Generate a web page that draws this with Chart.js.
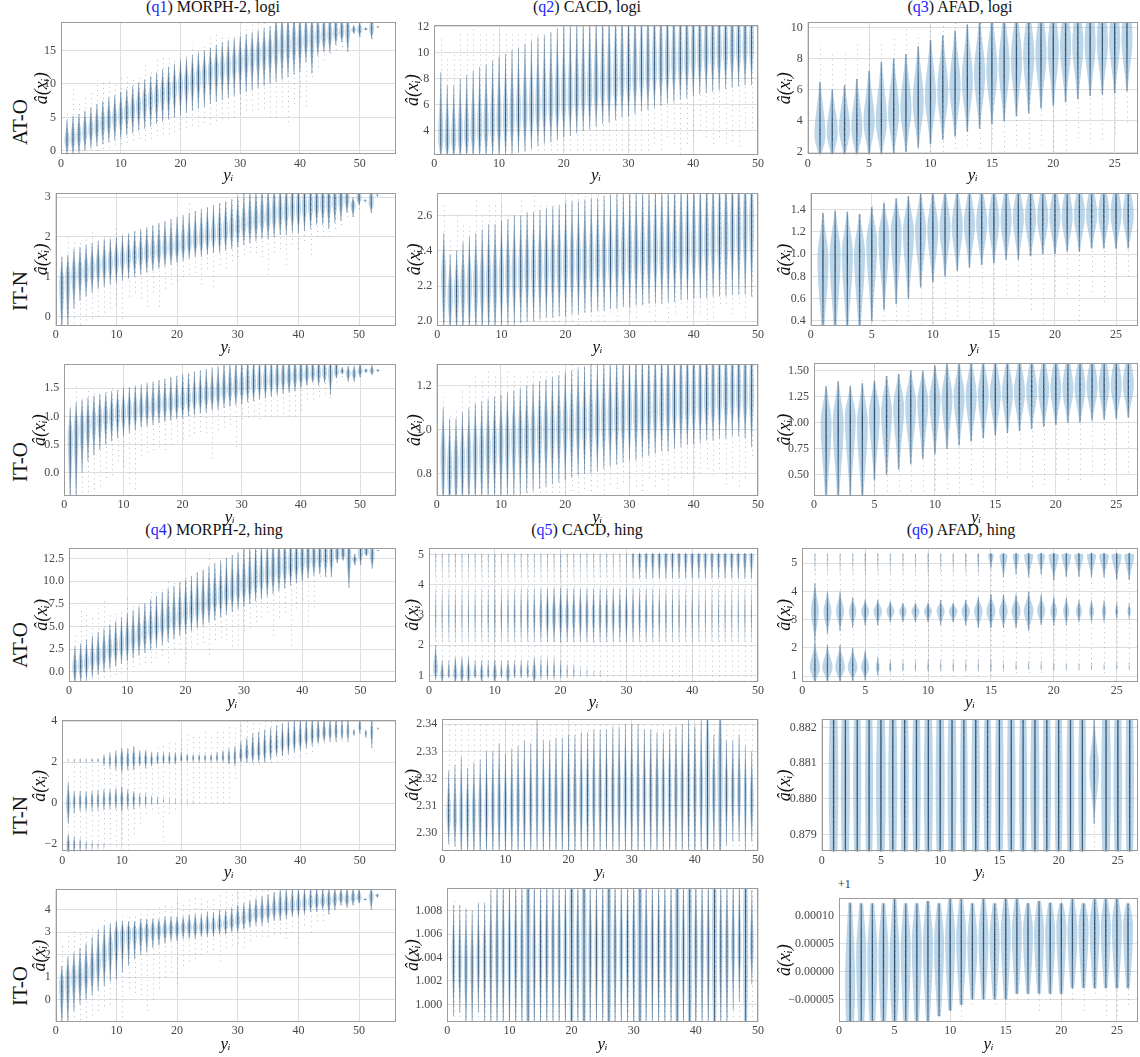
<!DOCTYPE html>
<html>
<head>
<meta charset="utf-8">
<title>violins</title>
<script src="https://cdn.jsdelivr.net/npm/chart.js@4.4.1/dist/chart.umd.min.js"></script>
<style>
  body { margin: 0; background: #fff; }
  #page { position: relative; width: 1140px; height: 1057px; overflow: hidden; font-family: "Liberation Serif", "DejaVu Serif", serif; color: #111; }
  canvas { position: absolute; }
  .title { position: absolute; font-size: 16px; white-space: nowrap; transform: translate(-50%, -50%); }
  .title span { color: #2323ff; }
  .rowlab { position: absolute; font-size: 21px; white-space: nowrap; transform: translate(-50%, -50%) rotate(-90deg); }
  .offset { position: absolute; font-size: 12px; color: #333; }
</style>
</head>
<body>
<div id="page">
  <div class="title" style="left:213px;top:7px">(<span>q1</span>) MORPH-2, logi</div>
  <div class="title" style="left:587px;top:7px">(<span>q2</span>) CACD, logi</div>
  <div class="title" style="left:960px;top:7px">(<span>q3</span>) AFAD, logi</div>
  <div class="title" style="left:214px;top:530px">(<span>q4</span>) MORPH-2, hing</div>
  <div class="title" style="left:587px;top:530px">(<span>q5</span>) CACD, hing</div>
  <div class="title" style="left:961px;top:530px">(<span>q6</span>) AFAD, hing</div>
  <div class="rowlab" style="left:20px;top:122px">AT-O</div>
  <div class="rowlab" style="left:20px;top:291px">IT-N</div>
  <div class="rowlab" style="left:20px;top:462px">IT-O</div>
  <div class="rowlab" style="left:20px;top:645px">AT-O</div>
  <div class="rowlab" style="left:20px;top:816px">IT-N</div>
  <div class="rowlab" style="left:20px;top:986px">IT-O</div>
  <div class="offset" style="left:838px;top:877px">+1</div>
</div>
<script>
// categories (true age index y_i)
const agesMorph = [1,2,3,4,5,6,7,8,9,10,11,12,13,14,15,16,17,18,19,20,21,22,23,24,25,26,27,28,29,30,31,32,33,34,35,36,37,38,39,40,41,42,43,44,45,46,47,48,49,50,51,52,53];
const agesCacd = [1,2,3,4,5,6,7,8,9,10,11,12,13,14,15,16,17,18,19,20,21,22,23,24,25,26,27,28,29,30,31,32,33,34,35,36,37,38,39,40,41,42,43,44,45,46,47,48,49];
const agesAfad = [1,2,3,4,5,6,7,8,9,10,11,12,13,14,15,16,17,18,19,20,21,22,23,24,25,26];

// x tick labels
const xTicksMorph = [0, 10, 20, 30, 40, 50];
const xTicksCacd = [0, 10, 20, 30, 40, 50];
const xTicksAfad = [0, 5, 10, 15, 20, 25];

// y tick labels
const q1aYTicks = [0, 5, 10, 15];
const q2aYTicks = [4, 6, 8, 10, 12];
const q3aYTicks = [2, 4, 6, 8, 10];
const q1bYTicks = [0, 1, 2, 3];
const q2bYTicks = [2.0, 2.2, 2.4, 2.6];
const q3bYTicks = [0.4, 0.6, 0.8, 1.0, 1.2, 1.4];
const q1cYTicks = [0.0, 0.5, 1.0, 1.5];
const q2cYTicks = [0.8, 1.0, 1.2];
const q3cYTicks = [0.50, 0.75, 1.00, 1.25, 1.50];
const q4aYTicks = [0.0, 2.5, 5.0, 7.5, 10.0, 12.5];
const q5aYTicks = [1, 2, 3, 4, 5];
const q6aYTicks = [1, 2, 3, 4, 5];
const q4bYTicks = [-2, 0, 2, 4];
const q5bYTicks = [2.30, 2.31, 2.32, 2.33, 2.34];
const q6bYTicks = [0.879, 0.880, 0.881, 0.882];
const q4cYTicks = [0, 1, 2, 3, 4];
const q5cYTicks = [1.000, 1.002, 1.004, 1.006, 1.008];
const q6cYTicks = [-0.00005, 0.00000, 0.00005, 0.00010];

// q1 MORPH-2 logi, AT-O
const q1aMid = [1.5,1.9,2.3,2.8,3.2,3.6,4.1,4.5,4.9,5.3, 5.8,6.2,6.7,7.1,7.6,8.0,8.5,8.9,9.4,9.8, 10.2,10.6,11.0,11.4,11.8,12.2,12.5,12.8,13.1,13.4, 13.8,14.1,14.4,14.7,15.0,15.3,15.6,15.8,16.1,16.3, 16.5,16.7,16.9,17.1,17.3,17.5,17.6,17.7,18.0,18.1, 18.2,18.1,18.5];
const q1aLo = [-0.6,-0.6,-0.4,0.0,0.4,0.7,1.0,1.3,1.6,2.0, 2.3,2.6,3.0,3.3,3.6,4.0,4.3,4.7,5.0,5.3, 5.7,6.0,6.3,6.6,7.0,7.3,7.6,7.9,8.2,8.5, 8.8,9.1,9.4,9.7,10.0,10.3,10.6,11.0,11.4,11.8, 13.2,11.5,14.2,14.7,14.7,15.8,16.2,14.8,17.5,17.0, 18.0,16.7,18.4];
const q1aHi = [4.6,5.2,5.5,6.0,6.5,7.0,7.5,8.0,8.3,8.8, 9.2,9.7,10.2,10.7,11.2,11.7,12.2,12.6,13.0,13.5, 13.9,14.3,14.7,15.0,15.4,15.8,16.2,16.5,16.8,17.1, 17.4,17.7,18.0,18.3,18.6,21,21,21,21,21, 21,21,21,21,21,21,21,21,18.8,19.4, 18.4,21,18.6];
const q1aDlo = [-0.6,-0.6,-0.6,-0.4,-0.5,0.0,0.3,0.5,0.8,1.0, 1.2,1.5,1.8,1.5,1.8,2.2,2.5,2.5,2.8,3.2, 3.5,3.8,3.6,4.2,4.0,4.5,4.8,4.8,5.0,5.5, 6.0,6.0,6.2,6.3,5.0,5.0,6.5,4.3,7.0,8.0, 6.6,11.0,12.5,13.5,14.5,15.0,15.5,14.8,17.5,17.0, 18.0,16.7,18.4];
const q1aDhi = [5.8,9.5,7.2,8.3,9.0,10.5,10.2,10.5,10.3,11.0, 11.0,11.0,11.5,13.0,12.0,14.0,14.2,14.2,14.0,15.0, 14.5,15.8,15.2,16.0,17.0,17.5,17.5,17.5,17.2,18.0, 18.5,19.0,19.3,19.3,19.3,19.3,19.3,19.3,19.3,19.3, 19.3,19.3,19.3,19.3,19.3,19.3,19.3,19.3,18.8,19.3, 18.4,19.3,18.6];

// q2 CACD logi, AT-O
const q2aMid = [3.4,3.3,3.4,3.6,3.8,4.0,4.1,4.3,4.5,4.7, 4.9,5.0,5.2,5.4,5.5,5.7,5.9,6.0,6.2,6.4, 6.5,6.7,6.9,7.0,7.2,7.4,7.5,7.7,7.9,8.0, 8.2,8.4,8.5,8.7,8.9,9.0,9.2,9.3,9.5,9.6, 9.8,9.9,10.0,10.1,10.2,10.3,10.4,10.5,10.6];
const q2aLo = [1.6,1.6,1.6,1.6,1.6,1.6,1.7,1.7,1.8,1.8, 1.9,2.0,2.3,2.4,2.6,2.8,3.0,3.1,3.3,3.5, 3.6,3.8,4.0,4.1,4.3,4.5,4.6,4.8,5.0,5.1, 5.3,5.5,5.6,5.8,5.9,6.1,6.2,6.4,6.5,6.7, 6.8,6.9,7.0,7.1,7.2,7.3,7.4,7.5,7.5];
const q2aHi = [8.5,7.5,7.5,8.0,8.3,8.6,8.9,9.1,9.4,9.7, 9.9,10.2,10.4,10.7,10.9,11.2,11.4,11.6,11.9,12.2, 12.4,12.6,12.8,13.0,13.2,13.4,13.6,13.8,14.0,14.1, 14.2,14.3,14.4,14.5,14.6,14.7,14.8,14.9,15.0,15.0, 15.0,15.0,15.0,15.0,15.0,15.0,15.0,15.0,15.0];
const q2aDlo = [2.1,2.1,2.1,2.1,2.1,2.1,2.1,2.1,2.1,2.1, 2.1,2.1,2.1,2.1,2.1,2.1,2.1,2.1,2.1,2.1, 2.1,2.1,2.1,2.1,2.1,2.1,2.1,2.1,2.1,2.1, 2.1,2.1,2.1,3.0,2.5,3.5,3.0,2.2,3.0,3.2, 4.0,3.5,3.0,3.5,3.0,3.2,2.8,4.2,4.2];
const q2aDhi = [11.2,9.8,10.2,11.4,11.5,11.8,11.4,11.5,11.5,11.5, 11.6,11.4,11.5,11.5,11.4,11.6,11.3,11.5,11.6,11.9, 12.2,12.2,12.2,12.2,12.2,12.2,12.2,12.2,12.2,12.2, 12.2,12.2,12.2,12.2,12.2,12.2,12.2,12.2,12.2,12.2, 12.2,12.2,12.2,12.2,12.2,12.2,12.2,12.2,12.2];

// q3 AFAD logi, AT-O
const q3aMid = [3.1,3.3,3.5,3.5,3.9,4.0,4.5,4.8,5.2,5.6, 5.9,6.2,6.6,7.0,7.3,7.6,7.9,8.2,8.4,8.6, 8.8,8.9,9.0,9.1,9.2,9.3];
const q3aLo = [1.5,1.5,1.6,1.6,1.7,1.7,1.9,2.0,2.3,2.5, 2.8,3.0,3.3,3.5,3.8,4.0,4.3,4.5,4.8,5.0, 5.2,5.4,5.6,5.7,5.8,5.9];
const q3aHi = [6.5,6.0,6.3,6.7,7.2,7.8,8.0,8.3,8.8,9.2, 9.5,9.8,10.2,10.6,11.0,11.2,11.5,11.8,12.0,12.2, 12.4,12.5,12.6,12.7,12.8,12.9];
const q3aDlo = [1.8,1.8,1.8,1.8,1.8,1.8,1.8,1.8,1.9,2.0, 2.0,2.2,2.4,2.2,2.5,2.0,2.4,2.2,2.4,2.0, 2.1,2.9,2.5,2.8,3.2,3.9];
const q3aDhi = [8.9,8.5,8.4,9.0,9.2,9.2,9.5,10.0,9.6,10.3, 10.4,10.4,10.4,10.4,10.4,10.4,10.4,10.4,10.4,10.4, 10.4,10.4,10.4,10.4,10.4,10.4];

// q1 MORPH-2 logi, IT-N
const q1bMid = [0.8,1.0,1.05,1.1,1.15,1.2,1.25,1.3,1.35,1.4, 1.45,1.5,1.52,1.55,1.6,1.62,1.65,1.7,1.72,1.75, 1.8,1.85,1.9,1.95,2.0,2.05,2.1,2.15,2.2,2.25, 2.3,2.35,2.4,2.45,2.5,2.55,2.6,2.65,2.7,2.72, 2.75,2.78,2.8,2.82,2.85,2.87,2.9,2.92,2.8,2.95, 2.9,2.85,3.05];
const q1bLo = [-0.5,-0.4,0.2,0.4,0.5,0.6,0.7,0.75,0.8,0.85, 0.9,0.95,1.0,1.05,1.1,1.15,1.2,1.25,1.3,1.35, 1.4,1.45,1.5,1.5,1.55,1.6,1.6,1.65,1.7,1.75, 1.8,1.85,1.9,1.95,1.95,2.0,2.05,2.05,2.1,2.1, 2.15,2.2,2.3,2.3,2.2,2.35,2.4,2.6,2.5,2.8, 2.9,2.6,3.03];
const q1bHi = [1.5,1.55,1.7,1.75,1.8,1.85,1.9,1.95,1.95,2.0, 2.05,2.1,2.15,2.2,2.25,2.3,2.35,2.4,2.45,2.5, 2.55,2.6,2.65,2.7,2.75,2.8,2.85,2.9,2.95,3.0, 3.1,3.2,3.2,3.3,3.3,3.4,3.4,3.4,3.5,3.5, 3.5,3.5,3.5,3.5,3.5,3.5,3.5,3.5,3.0,3.5, 2.95,3.5,3.07];
const q1bDlo = [-0.3,-0.3,-0.3,-0.2,-0.1,-0.05,0.0,0.1,0.2,0.3, -0.05,0.5,0.6,0.45,0.25,0.6,0.25,0.7,0.8,0.9, 1.0,1.05,1.1,0.8,1.2,0.75,1.3,1.2,1.4,1.5, 1.55,1.6,1.6,1.5,1.05,1.6,1.7,1.3,1.8,1.7, 1.9,1.55,2.0,2.0,2.0,2.2,2.3,2.5,2.5,2.7, 2.85,2.6,3.0];
const q1bDhi = [1.5,2.0,1.9,1.9,2.0,2.2,2.0,2.05,2.05,2.25, 2.1,2.1,2.15,2.2,2.25,2.25,2.3,2.4,2.45,2.4, 2.5,2.85,2.7,2.7,2.8,2.85,2.9,2.95,3.0,3.15, 3.15,3.15,3.15,3.15,3.15,3.15,3.15,3.15,3.15,3.15, 3.15,3.15,3.15,3.15,3.15,3.15,3.15,3.15,3.0,3.15, 2.95,3.15,3.07];

// q2 CACD logi, IT-N
const q2bMid = [2.25,2.15,2.17,2.2,2.21,2.22,2.23,2.24,2.25,2.26, 2.27,2.27,2.28,2.29,2.29,2.3,2.3,2.31,2.31,2.32, 2.32,2.33,2.33,2.34,2.34,2.35,2.35,2.36,2.36,2.37, 2.37,2.38,2.38,2.39,2.39,2.4,2.4,2.41,2.42,2.42, 2.43,2.44,2.45,2.46,2.47,2.49,2.5,2.52,2.55];
const q2bLo = [1.9,1.9,1.9,1.9,1.9,1.9,1.9,1.9,1.9,1.95, 1.97,1.98,1.99,2.0,2.0,2.01,2.02,2.02,2.03,2.03, 2.04,2.04,2.05,2.05,2.06,2.06,2.07,2.07,2.08,2.08, 2.09,2.09,2.1,2.1,2.1,2.11,2.11,2.12,2.12,2.13, 2.13,2.13,2.14,2.14,2.14,2.15,2.15,2.15,2.14];
const q2bHi = [2.5,2.38,2.4,2.45,2.48,2.5,2.52,2.55,2.55,2.57, 2.58,2.6,2.6,2.62,2.62,2.63,2.64,2.65,2.66,2.67, 2.68,2.68,2.69,2.7,2.7,2.71,2.72,2.73,2.74,2.75, 2.76,2.77,2.78,2.79,2.8,2.8,2.81,2.82,2.83,2.84, 2.85,2.86,2.87,2.88,2.9,2.9,2.91,2.92,2.93];
const q2bDlo = [1.97,1.97,1.97,1.97,1.97,1.97,1.97,1.97,1.97,1.97, 1.97,1.97,1.97,1.97,1.97,1.97,1.97,1.97,1.97,1.97, 2.0,1.98,2.05,2.0,2.0,2.0,2.05,2.0,2.1,2.05, 2.02,2.1,2.05,2.0,2.1,1.99,2.05,2.1,2.02,2.05, 2.05,1.98,2.02,2.1,2.1,2.04,2.1,2.02,2.14];
const q2bDhi = [2.66,2.47,2.6,2.56,2.54,2.7,2.6,2.66,2.68,2.66, 2.6,2.62,2.7,2.6,2.72,2.68,2.68,2.68,2.63,2.7, 2.73,2.73,2.73,2.73,2.73,2.73,2.73,2.73,2.73,2.73, 2.73,2.73,2.73,2.73,2.73,2.73,2.73,2.73,2.73,2.73, 2.73,2.73,2.73,2.73,2.73,2.73,2.73,2.73,2.73];

// q3 AFAD logi, IT-N
const q3bMid = [0.95,1.0,1.0,1.0,1.1,1.15,1.2,1.2,1.22,1.22, 1.25,1.25,1.27,1.28,1.3,1.3,1.32,1.32,1.33,1.33, 1.33,1.35,1.35,1.36,1.36,1.35];
const q3bLo = [0.2,0.2,0.25,0.25,0.4,0.5,0.55,0.6,0.7,0.75, 0.8,0.85,0.88,0.9,0.92,0.95,0.95,0.98,1.0,1.0, 1.02,1.02,1.05,1.05,1.05,1.05];
const q3bHi = [1.37,1.39,1.38,1.36,1.42,1.46,1.5,1.52,1.55,1.58, 1.6,1.62,1.63,1.64,1.65,1.66,1.66,1.67,1.68,1.68, 1.69,1.69,1.7,1.7,1.7,1.7];
const q3bDlo = [0.35,0.35,0.35,0.35,0.35,0.35,0.35,0.35,0.37,0.38, 0.42,0.44,0.43,0.38,0.37,0.63,0.62,0.5,0.37,0.62, 0.64,0.4,0.66,0.57,0.78,0.8];
const q3bDhi = [1.35,1.38,1.37,1.35,1.45,1.48,1.45,1.48,1.52,1.52, 1.55,1.55,1.55,1.55,1.55,1.55,1.55,1.55,1.55,1.55, 1.55,1.55,1.55,1.55,1.55,1.55];

// q1 MORPH-2 logi, IT-O
const q1cMid = [0.6,0.75,0.8,0.85,0.9,0.95,1.0,1.0,1.05,1.05, 1.1,1.1,1.12,1.15,1.15,1.2,1.2,1.22,1.25,1.27, 1.3,1.32,1.35,1.37,1.4,1.42,1.45,1.47,1.5,1.52, 1.55,1.57,1.6,1.62,1.63,1.65,1.67,1.68,1.7,1.72, 1.73,1.74,1.75,1.76,1.77,1.78,1.8,1.77,1.76,1.8, 1.82,1.8,1.82];
const q1cLo = [-0.6,-0.5,0.0,0.2,0.3,0.4,0.5,0.55,0.6,0.65, 0.7,0.75,0.8,0.82,0.85,0.88,0.9,0.92,0.95,0.97, 1.0,1.02,1.05,1.07,1.1,1.12,1.15,1.17,1.2,1.22, 1.25,1.27,1.3,1.32,1.35,1.38,1.4,1.42,1.45,1.5, 1.55,1.6,1.55,1.6,1.38,1.68,1.75,1.62,1.62,1.7, 1.78,1.74,1.8];
const q1cHi = [1.15,1.25,1.3,1.33,1.37,1.4,1.42,1.45,1.47,1.5, 1.52,1.55,1.57,1.6,1.62,1.65,1.67,1.7,1.72,1.75, 1.77,1.8,1.82,1.85,1.87,1.9,2.0,2.0,2.05,2.05, 2.1,2.1,2.1,2.1,2.1,2.1,2.1,2.1,2.1,2.1, 2.1,2.1,2.1,2.1,2.1,2.1,1.88,1.9,1.9,1.95, 1.85,1.92,1.84];
const q1cDlo = [-0.45,-0.45,-0.45,-0.35,-0.3,-0.25,-0.1,-0.05,0.2,0.1, -0.2,-0.3,0.3,0.35,0.4,0.45,0.4,0.5,0.55,0.6, 0.65,0.7,0.72,0.7,0.25,0.75,0.8,0.85,0.45,0.95, 0.98,1.0,0.95,1.0,1.0,1.0,1.05,1.0,1.0,1.1, 1.3,1.3,1.35,1.4,1.33,1.6,1.7,1.62,1.62,1.7, 1.78,1.74,1.8];
const q1cDhi = [1.2,1.55,1.3,1.45,1.45,1.45,1.45,1.5,1.5,1.6, 1.55,1.55,1.55,1.6,1.65,1.7,1.7,1.73,1.75,1.75, 1.78,1.8,1.82,1.85,1.88,1.88,1.93,1.93,1.93,1.93, 1.93,1.93,1.93,1.93,1.93,1.93,1.93,1.93,1.93,1.93, 1.93,1.93,1.93,1.93,1.93,1.93,1.88,1.9,1.9,1.93, 1.85,1.92,1.84];

// q2 CACD logi, IT-O
const q2cMid = [0.88,0.82,0.85,0.87,0.88,0.9,0.9,0.92,0.93,0.94, 0.95,0.96,0.97,0.97,0.98,0.99,1.0,1.0,1.01,1.02, 1.02,1.03,1.03,1.04,1.04,1.05,1.05,1.06,1.06,1.07, 1.07,1.08,1.08,1.09,1.09,1.1,1.1,1.11,1.11,1.12, 1.12,1.13,1.13,1.14,1.14,1.15,1.15,1.15,1.15];
const q2cLo = [0.6,0.6,0.6,0.62,0.63,0.64,0.65,0.66,0.67,0.68, 0.68,0.69,0.7,0.71,0.72,0.73,0.74,0.75,0.76,0.77, 0.78,0.79,0.8,0.8,0.81,0.82,0.83,0.84,0.85,0.86, 0.86,0.87,0.88,0.89,0.9,0.9,0.91,0.92,0.93,0.93, 0.94,0.95,0.95,0.96,0.96,0.97,0.97,0.96,0.92];
const q2cHi = [1.1,1.05,1.05,1.08,1.1,1.12,1.13,1.14,1.15,1.16, 1.17,1.18,1.19,1.2,1.21,1.22,1.23,1.24,1.25,1.26, 1.27,1.28,1.29,1.3,1.31,1.32,1.33,1.34,1.35,1.36, 1.37,1.38,1.39,1.4,1.41,1.42,1.43,1.44,1.45,1.45, 1.46,1.46,1.47,1.47,1.48,1.48,1.49,1.49,1.5];
const q2cDlo = [0.69,0.69,0.69,0.69,0.69,0.69,0.69,0.69,0.69,0.69, 0.69,0.69,0.69,0.69,0.69,0.69,0.69,0.69,0.69,0.69, 0.72,0.71,0.73,0.72,0.74,0.7,0.75,0.73,0.76,0.78, 0.74,0.72,0.78,0.74,0.77,0.7,0.78,0.78,0.8,0.78, 0.8,0.82,0.79,0.82,0.75,0.78,0.74,0.78,0.88];
const q2cDhi = [1.15,1.08,1.1,1.18,1.2,1.26,1.22,1.27,1.25,1.24, 1.27,1.26,1.24,1.26,1.28,1.28,1.28,1.27,1.28,1.27, 1.3,1.3,1.3,1.3,1.3,1.3,1.3,1.3,1.3,1.3, 1.3,1.3,1.3,1.3,1.3,1.3,1.3,1.3,1.3,1.3, 1.3,1.3,1.3,1.3,1.3,1.3,1.3,1.3,1.3];

// q3 AFAD logi, IT-O
const q3cMid = [1.0,1.0,1.05,1.0,1.1,1.1,1.15,1.18,1.2,1.22, 1.24,1.25,1.26,1.27,1.28,1.29,1.3,1.31,1.32,1.33, 1.33,1.34,1.35,1.36,1.36,1.37];
const q3cLo = [0.2,0.2,0.3,0.2,0.45,0.5,0.55,0.6,0.65,0.7, 0.75,0.78,0.82,0.85,0.88,0.9,0.92,0.94,0.96,0.98, 1.0,1.0,1.02,1.03,1.04,1.05];
const q3cHi = [1.35,1.4,1.35,1.38,1.4,1.45,1.47,1.5,1.5,1.55, 1.58,1.6,1.62,1.63,1.64,1.65,1.66,1.67,1.68,1.69, 1.7,1.7,1.71,1.72,1.72,1.73];
const q3cDlo = [0.29,0.29,0.29,0.29,0.29,0.29,0.29,0.29,0.29,0.35, 0.36,0.32,0.4,0.33,0.45,0.47,0.55,0.38,0.4,0.5, 0.45,0.45,0.48,0.4,0.55,0.52];
const q3cDhi = [1.34,1.4,1.36,1.42,1.56,1.45,1.47,1.52,1.46,1.55, 1.57,1.57,1.57,1.57,1.57,1.57,1.57,1.57,1.57,1.57, 1.57,1.57,1.57,1.57,1.57,1.57];

// q4 MORPH-2 hing, AT-O
const q4aMid = [0.5,0.8,1.0,1.4,1.7,2.0,2.4,2.7,3.0,3.4, 3.7,4.0,4.3,4.6,5.0,5.3,5.6,5.9,6.2,6.5, 6.8,7.1,7.4,7.7,8.0,8.3,8.6,8.9,9.2,9.5, 9.8,10.1,10.4,10.7,11.0,11.3,11.5,11.7,11.9,12.1, 12.3,12.4,12.5,12.6,12.7,12.8,12.9,12.5,12.4,13.0, 13.1,12.8,13.4];
const q4aLo = [-1.5,-1.3,-0.9,-0.6,-0.3,0.0,0.3,0.6,0.9,1.2, 1.5,1.8,2.1,2.4,2.7,3.0,3.3,3.6,3.9,4.2, 4.5,4.8,5.1,5.4,5.7,6.0,6.3,6.6,6.9,7.2, 7.5,7.8,8.0,8.3,8.6,8.9,9.2,9.5,9.8,10.0, 10.3,10.6,10.8,10.5,10.5,12.0,12.3,9.3,11.8,11.8, 12.8,11.4,13.35];
const q4aHi = [2.8,3.2,3.6,4.0,4.4,4.8,5.2,5.6,6.0,6.4, 6.8,7.2,7.6,8.0,8.4,8.8,9.2,9.5,9.9,10.2, 10.6,11.0,11.3,11.7,12.0,12.3,12.6,12.9,13.2,13.6, 14.0,14.3,14.6,14.9,15.2,15.5,15.8,16.0,16.0,16.0, 16.0,16.0,16.0,16.0,16.0,16.0,16.0,16.0,13.0,16.0, 16.0,16.0,13.45];
const q4aDlo = [-1.1,-1.1,-1.0,-0.8,-0.8,-0.6,-0.5,-0.3,-0.2,0.3, 0.5,0.8,1.0,1.0,1.5,1.8,1.0,2.0,2.5,0.9, 2.7,3.0,3.2,1.9,3.5,3.8,3.5,2.8,2.9,4.5, 4.8,5.5,6.0,6.5,4.0,6.0,6.5,2.9,7.0,8.0, 5.0,7.2,10.5,10.5,10.5,12.0,12.3,9.3,11.8,11.8, 12.8,11.4,13.35];
const q4aDhi = [4.0,7.2,6.5,6.2,7.0,8.2,6.5,6.5,6.8,8.3, 7.5,7.5,7.5,9.0,9.0,9.5,10.3,10.0,10.0,10.8, 10.5,11.0,11.5,13.0,11.8,12.0,12.5,13.0,13.3,13.7, 13.7,13.7,13.7,13.7,13.7,13.7,13.7,13.7,13.7,13.7, 13.7,13.7,13.7,13.7,13.7,13.7,13.7,13.7,13.0,13.7, 13.7,13.7,13.45];

// q5 CACD hing, AT-O (three clusters)
const q5aLowMid = [1.2,1.05,1.05,1.05,1.05,1.05,1.05,1.05,1.05,1.05, 1.05,1.05,1.1,1.1,1.1,1.05,1.1,1.1,1.1,1.1, 1.1,1.1,1.05,1.05,1.05,1.05];
const q5aLowLo = [0.85,0.7,0.9,0.7,0.7,0.7,0.9,0.7,0.9,0.7, 0.9,0.7,0.9,0.9,0.9,0.7,0.85,0.85,0.85,0.9, 0.9,0.9,0.95,0.95,0.95,0.95];
const q5aLowHi = [2.0,1.5,1.5,1.6,1.6,1.6,1.5,1.5,1.5,1.5, 1.5,1.5,1.5,1.5,1.5,1.6,1.6,1.6,1.6,1.5, 1.4,1.4,1.3,1.3,1.2,1.2];
const q5aLowW = [0.9,0.7,0.5,0.8,0.8,0.8,0.6,0.7,0.5,0.8, 0.5,0.8,0.5,0.5,0.5,0.8,0.4,0.4,0.4,0.3, 0.2,0.2,0.1,0.1,0.05,0.05];
const q5aMidMode = 3.0, q5aMidLo = 2.1, q5aMidHi = 3.9;
const q5aMidW = [0.2,0.2,0.2,0.2,0.2,0.2,0.2,0.2,0.25,0.25, 0.3,0.3,0.35,0.35,0.4,0.45,0.6,0.7,0.8,0.8, 0.7,0.7,0.7,0.65,0.65,0.6,0.6,0.6,0.6,0.6, 0.55,0.5,0.5,0.45,0.4,0.35,0.3,0.3,0.25,0.25, 0.2,0.2,0.2,0.2,0.2,0.2,0.2,0.2,0.2];
const q5aTopMode = 5.0, q5aTopLo = 4.2, q5aTopHi = 5.06;
const q5aTopW = [0.1,0.1,0.1,0.1,0.1,0.1,0.1,0.1,0.1,0.1, 0.1,0.1,0.1,0.1,0.1,0.1,0.1,0.1,0.1,0.1, 0.1,0.1,0.1,0.1,0.1,0.1,0.1,0.1,0.1,0.1, 0.5,0.8,0.7,0.8,0.8,0.8,0.8,0.75,0.8,0.8, 0.8,0.8,0.75,0.8,0.8,0.8,0.8,0.8,0.85];
const q5aDlo = 0.79, q5aDhi = 5.06;

// q6 AFAD hing, AT-O (three clusters)
const q6aLowMode = 1.3;
const q6aLowLo = [0.7,0.75,0.75,0.8,0.85,1.0,1.1,1.15,1.15,1.15, 1.15,1.15,1.15,1.15,1.15,1.2,1.2,1.2,1.2,1.2, 1.2,1.2,1.2,1.2,1.2,1.2];
const q6aLowHi = [2.2,2.1,2.1,2.0,1.9,1.7,1.6,1.6,1.6,1.6, 1.6,1.6,1.6,1.6,1.6,1.55,1.55,1.55,1.55,1.5, 1.5,1.5,1.5,1.5,1.5,1.5];
const q6aLowW = [0.9,0.9,0.85,0.85,0.7,0.35,0.2,0.12,0.1,0.1, 0.1,0.1,0.08,0.08,0.08,0.08,0.08,0.08,0.08,0.06, 0.06,0.06,0.06,0.05,0.05,0.05];
const q6aMidMode = 3.3;
const q6aMidLo = [2.2,2.5,2.6,2.7,2.8,2.8,2.9,2.9,2.9,2.9, 2.8,2.9,2.8,2.7,2.7,2.7,2.7,2.6,2.8,2.8, 2.8,2.9,2.9,2.9,3.0,3.0];
const q6aMidHi = [4.3,4.0,4.0,3.8,3.7,3.7,3.65,3.6,3.6,3.6, 3.7,3.6,3.7,3.8,3.9,3.9,3.9,4.0,3.9,3.8, 3.8,3.7,3.7,3.7,3.6,3.6];
const q6aMidW = [0.7,0.7,0.7,0.65,0.7,0.75,0.7,0.65,0.7,0.7, 0.7,0.75,0.75,0.75,0.8,0.75,0.8,0.85,0.7,0.6, 0.55,0.55,0.45,0.4,0.3,0.3];
const q6aTopMode = 5.3, q6aTopHi = 5.36;
const q6aTopLo = [4.6,4.6,4.6,4.6,4.6,4.6,4.6,4.6,4.6,4.6, 4.6,4.6,4.6,4.6,4.8,4.5,4.6,4.5,4.6,4.4, 4.5,4.5,4.5,4.5,4.4,4.4];
const q6aTopW = [0.05,0.05,0.05,0.05,0.06,0.06,0.06,0.06,0.06,0.06, 0.08,0.08,0.1,0.15,0.5,0.7,0.6,0.8,0.7,0.9, 0.85,0.8,0.8,0.85,0.9,0.9];
const q6aDlo = [0.85,0.85,0.85,0.85,0.85,0.85,0.85,0.85,1.0,1.0, 1.0,1.0,1.0,1.0,1.0,1.15,1.1,1.1,1.1,1.2, 1.2,1.2,1.25,1.1,1.3,1.25];
const q6aDhi = 5.36;

// q4 MORPH-2 hing, IT-N (clusters near 2, 0 and -2)
const q4bUpMid = [2.1,2.1,2.1,2.1,2.1,2.1,2.1,2.1,2.1,2.15, 2.1,2.15,2.1,2.15,2.1,2.15,2.15,2.15,2.15,2.15, 2.2,2.2,2.2,2.2,2.2,2.2,2.2,2.2,2.25,2.3, 2.4,2.45,2.5,2.6,2.7,2.8,2.9,3.0,3.05,3.1, 3.2,3.3,3.35,3.4,3.45,3.5,3.45,3.5,3.45,3.7, 3.4,3.5,3.65];
const q4bUpLo = [2.0,2.0,2.0,2.0,2.0,2.0,1.8,1.7,1.6,1.5, 1.6,1.6,1.8,1.7,1.8,1.9,1.9,1.9,1.9,2.0, 2.0,2.0,2.0,2.0,2.0,2.0,2.0,1.9,1.8,2.0, 2.0,2.0,2.0,2.0,2.1,2.3,2.3,2.4,2.5,2.6, 2.7,2.8,2.9,3.0,3.0,3.0,3.1,3.0,3.3,3.4, 3.2,2.7,3.6];
const q4bUpHi = [2.2,2.2,2.2,2.2,2.2,2.2,2.4,2.5,2.6,2.7, 2.7,2.8,2.6,2.6,2.5,2.5,2.5,2.5,2.5,2.5, 2.4,2.4,2.4,2.4,2.4,2.5,2.6,2.7,2.8,3.0, 3.2,3.4,3.5,3.6,3.7,3.8,3.9,4.0,4.1,4.2, 4.2,4.2,4.2,4.2,4.2,4.2,4.2,4.2,3.6,4.2, 3.6,4.2,3.7];
const q4bUpW = [0.1,0.15,0.2,0.2,0.25,0.3,0.45,0.5,0.55,0.7, 0.7,0.7,0.6,0.7,0.7,0.6,0.6,0.55,0.55,0.5, 0.5,0.45,0.45,0.45,0.5,0.5,0.55,0.6,0.6,0.7, 0.8,0.8,0.8,0.8,0.8,0.8,0.8,0.8,0.8,0.8, 0.8,0.8,0.8,0.8,0.7,0.7,0.6,0.6,0.5,0.6, 0.5,0.6,0.3];
const q4bZeroMid = [0.0,0.1,0.1,0.1,0.15,0.15,0.15,0.2,0.2,0.2, 0.2,0.2,0.15,0.15,0.1,0.1,0.1,0.1,0.05,0.05, 0.05,0.05];
const q4bZeroLo = [-1.0,-0.5,-0.4,-0.4,-0.4,-0.35,-0.35,-0.3,-0.3,-0.4, -0.3,-0.3,-0.2,-0.2,-0.1,-0.1,0.0,0.0,0.0,0.0, 0.0,0.0];
const q4bZeroHi = [1.0,0.6,0.6,0.6,0.6,0.65,0.7,0.7,0.75,0.8, 0.7,0.6,0.5,0.5,0.4,0.35,0.3,0.3,0.25,0.2, 0.2,0.15];
const q4bZeroW = [0.9,0.6,0.6,0.55,0.55,0.55,0.6,0.6,0.6,0.7, 0.6,0.6,0.4,0.35,0.3,0.25,0.15,0.1,0.1,0.05, 0.05,0.05];
const q4bNegMid = [-2.0,-2.0,-2.0,-2.05,-2.05,-2.1,-2.1];
const q4bNegLo = [-2.8,-2.6,-2.5,-2.4,-2.4,-2.3,-2.3];
const q4bNegHi = [-1.5,-1.6,-1.7,-1.8,-1.85,-1.9,-1.9];
const q4bNegW = [0.7,0.45,0.3,0.2,0.15,0.1,0.05];
const q4bDlo = [-2.4,-2.4,-2.4,-2.2,-2.1,-2.1,-2.0,-2.0,-2.1,-2.0, -2.3,-1.5,-1.0,-0.5,-0.3,-0.5,-1.9,-0.5,-0.3,-0.1, -0.1,0.0,0.0,0.0,0.0,0.0,0.0,0.0,1.2,1.8, 2.0,1.9,1.9,2.0,2.0,2.0,2.1,2.1,2.2,2.3, 2.4,2.5,2.8,2.9,3.0,3.0,3.0,3.0,3.3,3.4, 3.2,2.7,3.6];
const q4bDhi = [1.5,2.1,2.2,2.2,2.2,2.2,2.4,2.2,2.2,2.5, 2.7,2.8,2.6,2.7,2.5,2.7,2.8,3.0,3.1,3.2, 3.4,3.3,3.4,3.5,3.4,3.5,3.6,3.8,3.8,3.9, 4.1,4.1,4.1,4.1,4.1,4.1,4.1,4.1,4.1,4.1, 4.1,4.1,4.1,4.1,4.1,4.1,4.1,4.1,3.6,4.1, 3.6,4.1,3.7];

// q5 CACD hing, IT-N
const q5bMid = [2.307,2.306,2.307,2.308,2.308,2.309,2.309,2.31,2.31,2.31, 2.31,2.311,2.311,2.311,2.312,2.311,2.312,2.312,2.312,2.313, 2.313,2.313,2.313,2.314,2.314,2.314,2.314,2.315,2.315,2.315, 2.315,2.315,2.315,2.315,2.315,2.315,2.316,2.316,2.316,2.316, 2.316,2.318,2.316,2.318,2.316,2.315,2.315,2.315,2.312];
const q5bLo = [2.296,2.295,2.29,2.29,2.29,2.29,2.29,2.29,2.29,2.29, 2.29,2.29,2.29,2.29,2.29,2.29,2.29,2.29,2.29,2.29, 2.29,2.29,2.29,2.29,2.29,2.29,2.29,2.29,2.29,2.29, 2.29,2.29,2.29,2.29,2.29,2.29,2.29,2.29,2.29,2.29, 2.29,2.28,2.294,2.28,2.2955,2.297,2.297,2.29,2.297];
const q5bHi = [2.323,2.325,2.328,2.324,2.326,2.327,2.33,2.33,2.333,2.329, 2.331,2.332,2.334,2.333,2.345,2.334,2.334,2.335,2.335,2.336, 2.336,2.337,2.337,2.338,2.338,2.338,2.339,2.339,2.34,2.34, 2.34,2.338,2.338,2.337,2.337,2.338,2.339,2.34,2.343,2.339, 2.343,2.36,2.336,2.36,2.334,2.334,2.336,2.332,2.33];
const q5bW = [0.85,0.75,0.75,0.75,0.75,0.75,0.75,0.75,0.75,0.75, 0.75,0.75,0.75,0.75,0.6,0.75,0.75,0.75,0.75,0.75, 0.75,0.75,0.75,0.75,0.75,0.75,0.75,0.75,0.75,0.75, 0.75,0.75,0.75,0.75,0.75,0.75,0.75,0.75,0.75,0.75, 0.75,1.0,0.75,1.0,0.75,0.75,0.75,0.6,0.75];
const q5bDlo = 2.2936, q5bDhi = 2.341;

// q6 AFAD hing, IT-N
const q6bMid = [0.8804,0.8804,0.8804,0.8804,0.8804,0.8804,0.8804,0.8804,0.8804,0.8804, 0.8804,0.8804,0.8804,0.8804,0.8804,0.8804,0.8804,0.8804,0.8804,0.8804, 0.8804,0.8804,0.8808,0.8804,0.8804,0.8804];
const q6bLo = [0.874,0.874,0.874,0.874,0.874,0.874,0.874,0.874,0.874,0.874, 0.874,0.874,0.874,0.874,0.874,0.874,0.874,0.874,0.874,0.874, 0.874,0.874,0.8793,0.874,0.874,0.874];
const q6bHi = [0.887,0.887,0.887,0.887,0.887,0.887,0.887,0.887,0.887,0.887, 0.887,0.887,0.887,0.887,0.887,0.887,0.887,0.887,0.887,0.887, 0.887,0.887,0.8823,0.887,0.887,0.887];
const q6bW = [0.9,0.85,0.75,0.75,0.9,0.85,0.8,0.8,0.85,0.85, 0.85,0.7,0.8,0.75,0.8,0.8,0.75,0.85,0.8,0.75, 0.75,0.75,0.9,0.9,0.8,0.8];
const q6bDlo = 0.8785, q6bDhi = 0.8822;

// q4 MORPH-2 hing, IT-O
const q4cMid = [0.7,0.9,1.0,1.0,1.1,1.3,1.6,2.0,2.3,2.8, 2.9,3.0,3.0,3.0,3.05,3.1,3.1,3.1,3.15,3.15, 3.2,3.2,3.2,3.2,3.25,3.25,3.3,3.35,3.4,3.5, 3.6,3.7,3.8,3.85,3.9,4.0,4.05,4.1,4.15,4.2, 4.25,4.3,4.35,4.35,4.4,4.45,4.5,4.45,4.5,4.5, 4.45,4.6,4.65];
const q4cLo = [-1.3,-1.2,-0.5,-0.2,0.0,0.2,0.4,0.6,0.8,0.9, 1.2,1.5,1.8,2.0,2.1,2.3,2.4,2.5,2.6,2.6, 2.7,2.7,2.7,2.8,2.8,2.8,2.9,2.9,3.0,3.0, 3.1,3.2,3.3,3.3,3.4,3.5,3.5,3.6,3.7,3.7, 3.8,3.9,3.9,4.0,3.8,4.0,4.2,4.1,4.2,4.3, 4.42,4.0,4.55];
const q4cHi = [1.5,1.9,2.1,2.3,2.5,2.8,3.1,3.3,3.4,3.5, 3.5,3.5,3.5,3.6,3.6,3.6,3.6,3.7,3.7,3.7, 3.7,3.8,3.8,3.8,3.9,3.9,4.0,4.0,4.1,4.2, 4.3,4.4,4.5,4.6,4.7,4.8,5.0,5.0,5.0,5.0, 5.0,5.0,5.0,5.0,5.0,5.0,5.0,5.0,5.0,5.0, 4.5,5.0,4.7];
const q4cDlo = [-1.0,-1.0,-1.0,-0.9,-0.8,-0.7,-0.5,-0.3,-0.2,0.0, -1.0,0.5,0.3,0.2,-0.5,0.0,0.5,1.0,1.2,0.7, 1.5,1.7,1.8,2.0,2.1,2.2,1.7,2.3,2.4,2.5, 2.3,2.6,2.8,2.8,2.8,2.9,2.9,2.7,3.0,2.5, 3.3,3.0,3.5,3.5,3.8,4.0,4.2,4.1,4.2,4.3, 4.42,4.0,4.55];
const q4cDhi = [2.4,2.9,3.2,3.1,3.2,3.2,3.2,3.7,3.3,3.5, 3.7,3.8,3.8,3.9,4.1,3.9,4.2,4.2,4.3,4.4, 4.3,4.5,4.6,4.6,4.5,4.5,4.7,4.8,4.8,4.8, 4.95,4.95,4.95,4.95,4.95,4.95,4.95,4.95,4.95,4.95, 4.95,4.95,4.95,4.95,4.95,4.95,4.95,4.95,4.95,4.95, 4.5,4.95,4.7];

// q5 CACD hing, IT-O
const q5cMid = [1.004,1.0035,1.0035,1.0035,1.004,1.004,1.0045,1.0045,1.0045,1.0045, 1.0045,1.0045,1.0045,1.0045,1.0045,1.005,1.005,1.005,1.005,1.005, 1.005,1.005,1.005,1.005,1.005,1.005,1.005,1.005,1.005,1.005, 1.005,1.005,1.005,1.005,1.005,1.005,1.005,1.005,1.005,1.005, 1.005,1.005,1.005,1.005,1.005,1.005,1.005,1.005,1.005];
const q5cLo = [0.999,0.9993,0.9975,0.998,0.9993,0.998,0.997,0.997,0.997,0.997, 0.997,0.997,0.99,0.997,0.997,0.997,0.997,0.997,0.997,0.99, 0.997,0.99,0.997,0.997,0.997,0.99,0.997,0.997,0.997,0.997, 0.99,0.997,0.997,0.997,0.997,0.997,0.99,0.997,0.99,0.997, 0.997,0.997,0.99,0.997,0.997,0.9995,1.0002,0.99,1.0017];
const q5cHi = [1.0085,1.0085,1.0082,1.008,1.0087,1.0087,1.0098,1.011,1.011,1.011, 1.011,1.011,1.02,1.011,1.011,1.011,1.011,1.011,1.011,1.02, 1.011,1.02,1.011,1.011,1.011,1.02,1.011,1.011,1.011,1.011, 1.02,1.011,1.011,1.011,1.011,1.011,1.02,1.011,1.02,1.011, 1.011,1.011,1.02,1.011,1.011,1.011,1.011,1.02,1.0098];
const q5cW = [0.75,0.75,0.75,0.75,0.75,0.75,0.75,0.75,0.75,0.75, 0.75,0.75,1.0,0.75,0.75,0.75,0.75,0.75,0.75,1.0, 0.75,1.0,0.75,0.75,0.75,1.0,0.75,0.75,0.75,0.75, 1.0,0.75,0.75,0.75,0.75,0.75,1.0,0.75,1.0,0.75, 0.75,0.75,1.0,0.75,0.75,0.75,0.75,1.0,0.75];
const q5cDlo = 0.9985;
const q5cDhi = [1.0092,1.0085,1.008,1.008,1.0085,1.0086,1.0099,1.0099,1.0099,1.0099, 1.0099,1.0099,1.0099,1.0099,1.0099,1.0099,1.0099,1.0099,1.0099,1.0099, 1.0099,1.0099,1.0099,1.0099,1.0099,1.0099,1.0099,1.0099,1.0099,1.0099, 1.0099,1.0099,1.0099,1.0099,1.0099,1.0099,1.0099,1.0099,1.0099,1.0099, 1.0099,1.0099,1.0099,1.0099,1.0099,1.0099,1.0099,1.0099,1.0099];

// q6 AFAD hing, IT-O (values are a - 1, shown with a +1 offset)
const q6cMid = [-0.00002,0.00003,0.00003,0.00003,0.00002,0.00004,0.00005,0.00005,0.00005,0.00006, 0.00006,0.00005,0.00006,0.00006,0.00007,0.00007,0.00007,0.00007,0.00007,0.00008, 0.00007,0.00008,0.00008,0.00008,0.00008,0.00008];
const q6cLo = [-0.00016,-0.00014,-0.00013,-0.00012,-0.00012,-0.00011,-0.0001,-0.00009,-0.00008,-0.00007, -0.00006,-0.00005,-0.00005,-0.00005,-0.00005,-0.00004,-0.00004,-0.00004,-0.00004,-0.00004, -0.00003,-0.00003,-0.00003,-0.00003,-0.00003,-0.00003];
const q6cHi = [0.000123,0.000122,0.000122,0.000122,0.00013,0.000122,0.000122,0.000126,0.000122,0.00013, 0.00013,0.000122,0.00013,0.000122,0.000131,0.000131,0.000122,0.000126,0.000123,0.000122, 0.00013,0.000122,0.00013,0.00013,0.00013,0.000122];
const q6cDlo = [-0.00009,-0.00009,-0.00009,-0.00009,-0.00009,-0.00009,-0.00009,-0.00009,-0.00008,-0.00007, -0.00009,-0.00006,-0.00005,-0.00006,-0.00006,-0.00005,-0.00005,-0.00007,-0.00005,-0.00006, -0.00005,-0.00007,-0.00004,-0.00008,-0.00008,-0.00006];
const q6cDhi = 0.000123;

// ---------- drawing ----------
const SERIF = '"Liberation Serif", "DejaVu Serif", serif';
const GRID = '#dedede';
const FRAME = '#9c9c9c';
const TICK = '#474747';
const VIOLIN = 'rgba(112,168,210,0.48)';
const Y_TITLE = 18, X_TITLE = 17;

Chart.defaults.font.family = SERIF;

const at = (v, i) => Array.isArray(v) ? v[i] : v;

function fmt(v, dec) {
  const s = Math.abs(v).toFixed(dec);
  return (v < -1e-12 ? '\u2212' : '') + s;
}

function shape(v, mid, lo, hi, taper) {
  const s = (v < mid ? mid - lo : hi - mid) / taper;
  if (s <= 0) return 1;
  const z = (v - mid) / s;
  return Math.exp(-0.5 * z * z);
}

const violinPlugin = {
  id: 'violins',
  beforeDatasetsDraw(chart, args, opts) {
    const p = opts.panel;
    const { ctx, chartArea: a } = chart;
    const x = chart.scales.x, y = chart.scales.y;
    const unit = x.getPixelForValue(1) - x.getPixelForValue(0);
    const taper = p.taper || 2.3;
    ctx.save();
    ctx.beginPath();
    ctx.rect(a.left, a.top, a.right - a.left, a.bottom - a.top);
    ctx.clip();

    const strips = [];
    p.comps.forEach(c => {
      p.xs.forEach((cx, i) => {
        const w = at(c.w, i), mid = at(c.mid, i), lo = at(c.lo, i), hi = at(c.hi, i);
        if (w === undefined || w <= 0 || mid === undefined) return;
        const px = x.getPixelForValue(cx);
        const half = unit * p.half * w;
        const N = 60, pts = [];
        for (let k = 0; k <= N; k++) {
          const v = lo + (hi - lo) * k / N;
          pts.push([y.getPixelForValue(v), shape(v, mid, lo, hi, taper)]);
        }
        ctx.beginPath();
        pts.forEach(([py, f], k) => k ? ctx.lineTo(px - half * f, py) : ctx.moveTo(px - half * f, py));
        for (let k = N; k >= 0; k--) ctx.lineTo(px + half * pts[k][1], pts[k][0]);
        ctx.closePath();
        ctx.fillStyle = VIOLIN;
        ctx.fill();
        strips.push({ px, pts, w });
      });
    });

    // scattered single points
    ctx.setLineDash([1, 4]);
    ctx.lineWidth = 1;
    ctx.strokeStyle = 'rgba(60,90,122,0.38)';
    p.xs.forEach((cx, i) => {
      const px = Math.round(x.getPixelForValue(cx)) + 0.5;
      ctx.beginPath();
      ctx.moveTo(px, y.getPixelForValue(at(p.dlo, i)));
      ctx.lineTo(px, y.getPixelForValue(at(p.dhi, i)));
      ctx.stroke();
    });
    ctx.setLineDash([]);

    // dense points along the middle of each violin
    ctx.lineWidth = p.inner;
    strips.forEach(({ px, pts, w }) => {
      const k0 = Math.min(1, 0.2 + w);
      for (let k = 0; k < pts.length - 1; k++) {
        const f = (pts[k][1] + pts[k + 1][1]) / 2;
        ctx.strokeStyle = 'rgba(34,64,96,' + ((0.3 + 0.6 * f) * k0).toFixed(3) + ')';
        ctx.beginPath();
        ctx.moveTo(px, pts[k][0]);
        ctx.lineTo(px, pts[k + 1][0]);
        ctx.stroke();
      }
    });
    ctx.restore();
  },
  afterDraw(chart) {
    const { ctx, chartArea: a } = chart;
    ctx.save();
    ctx.strokeStyle = FRAME;
    ctx.lineWidth = 1;
    const l = Math.round(a.left) + 0.5, t = Math.round(a.top) + 0.5;
    const r = Math.round(a.right) - 0.5, b = Math.round(a.bottom) - 0.5;
    ctx.strokeRect(l, t, r - l, b - t);
    ctx.restore();
  }
};

const panels = [
  { xs: agesMorph, xMax: 56, xTicks: xTicksMorph, yMin: -0.5, yMax: 19.2, yTicks: q1aYTicks, dec: 0,
    box: [61, 395.5, 14.3, 154.3], yTitleX: 41.5, xTitleY: 176, half: 0.42, inner: 1.1,
    comps: [{ mid: q1aMid, lo: q1aLo, hi: q1aHi, w: 1 }], dlo: q1aDlo, dhi: q1aDhi },
  { xs: agesCacd, xMax: 50, xTicks: xTicksCacd, yMin: 2.14, yMax: 12.12, yTicks: q2aYTicks, dec: 0,
    box: [434.3, 762.7, 17.3, 155], yTitleX: 413, xTitleY: 176, half: 0.4, inner: 1.0,
    comps: [{ mid: q2aMid, lo: q2aLo, hi: q2aHi, w: 1 }], dlo: q2aDlo, dhi: q2aDhi },
  { xs: agesAfad, xMax: 26.9, xTicks: xTicksAfad, yMin: 1.86, yMax: 10.34, yTicks: q3aYTicks, dec: 0,
    box: [807.7, 1138, 14.3, 154.3], yTitleX: 785, xTitleY: 176, half: 0.45, inner: 1.3, taper: 2.0,
    comps: [{ mid: q3aMid, lo: q3aLo, hi: q3aHi, w: 1 }], dlo: q3aDlo, dhi: q3aDhi },

  { xs: agesMorph, xMax: 56, xTicks: xTicksMorph, yMin: -0.23, yMax: 3.10, yTicks: q1bYTicks, dec: 0,
    box: [55.7, 395.5, 184.7, 325.7], yTitleX: 41.5, xTitleY: 348, half: 0.42, inner: 1.1,
    comps: [{ mid: q1bMid, lo: q1bLo, hi: q1bHi, w: 1 }], dlo: q1bDlo, dhi: q1bDhi },
  { xs: agesCacd, xMax: 50, xTicks: xTicksCacd, yMin: 1.975, yMax: 2.726, yTicks: q2bYTicks, dec: 1,
    box: [437.3, 762.7, 184.7, 325.7], yTitleX: 415, xTitleY: 348, half: 0.4, inner: 1.0,
    comps: [{ mid: q2bMid, lo: q2bLo, hi: q2bHi, w: 1 }], dlo: q2bDlo, dhi: q2bDhi },
  { xs: agesAfad, xMax: 26.8, xTicks: xTicksAfad, yMin: 0.355, yMax: 1.546, yTicks: q3bYTicks, dec: 1,
    box: [810.7, 1138, 184.7, 326], yTitleX: 785, xTitleY: 348, half: 0.45, inner: 1.3, taper: 2.0,
    comps: [{ mid: q3bMid, lo: q3bLo, hi: q3bHi, w: 1 }], dlo: q3bDlo, dhi: q3bDhi },

  { xs: agesMorph, xMax: 56, xTicks: xTicksMorph, yMin: -0.42, yMax: 1.93, yTicks: q1cYTicks, dec: 1,
    box: [64.3, 395.5, 355.7, 496], yTitleX: 40, xTitleY: 518, half: 0.42, inner: 1.1,
    comps: [{ mid: q1cMid, lo: q1cLo, hi: q1cHi, w: 1 }], dlo: q1cDlo, dhi: q1cDhi },
  { xs: agesCacd, xMax: 50, xTicks: xTicksCacd, yMin: 0.697, yMax: 1.299, yTicks: q2cYTicks, dec: 1,
    box: [436.7, 762.7, 355.7, 496], yTitleX: 415, xTitleY: 518, half: 0.4, inner: 1.0,
    comps: [{ mid: q2cMid, lo: q2cLo, hi: q2cHi, w: 1 }], dlo: q2cDlo, dhi: q2cDhi },
  { xs: agesAfad, xMax: 26.8, xTicks: xTicksAfad, yMin: 0.294, yMax: 1.573, yTicks: q3cYTicks, dec: 2,
    box: [814, 1138, 355.3, 496], yTitleX: 785, xTitleY: 518, half: 0.45, inner: 1.3, taper: 2.0,
    comps: [{ mid: q3cMid, lo: q3cLo, hi: q3cHi, w: 1 }], dlo: q3cDlo, dhi: q3cDhi },

  { xs: agesMorph, xMax: 56, xTicks: xTicksMorph, yMin: -1.08, yMax: 13.64, yTicks: q4aYTicks, dec: 1,
    box: [69, 395.5, 539.8, 681.7], yTitleX: 41.5, xTitleY: 703, half: 0.42, inner: 1.1,
    comps: [{ mid: q4aMid, lo: q4aLo, hi: q4aHi, w: 1 }], dlo: q4aDlo, dhi: q4aDhi },
  { xs: agesCacd, xMax: 50, xTicks: xTicksCacd, yMin: 0.79, yMax: 5.22, yTicks: q5aYTicks, dec: 0,
    box: [429, 762.7, 539.8, 681.7], yTitleX: 413, xTitleY: 703, half: 0.42, inner: 1.0,
    comps: [
      { mid: q5aLowMid, lo: q5aLowLo, hi: q5aLowHi, w: q5aLowW },
      { mid: q5aMidMode, lo: q5aMidLo, hi: q5aMidHi, w: q5aMidW },
      { mid: q5aTopMode, lo: q5aTopLo, hi: q5aTopHi, w: q5aTopW }
    ], dlo: q5aDlo, dhi: q5aDhi },
  { xs: agesAfad, xMax: 26.7, xTicks: xTicksAfad, yMin: 0.80, yMax: 5.53, yTicks: q6aYTicks, dec: 0,
    box: [802.3, 1138, 539.8, 681.7], yTitleX: 785, xTitleY: 703, half: 0.45, inner: 1.3,
    comps: [
      { mid: q6aLowMode, lo: q6aLowLo, hi: q6aLowHi, w: q6aLowW },
      { mid: q6aMidMode, lo: q6aMidLo, hi: q6aMidHi, w: q6aMidW },
      { mid: q6aTopMode, lo: q6aTopLo, hi: q6aTopHi, w: q6aTopW }
    ], dlo: q6aDlo, dhi: q6aDhi },

  { xs: agesMorph, xMax: 56, xTicks: xTicksMorph, yMin: -2.35, yMax: 4.05, yTicks: q4bYTicks, dec: 0,
    box: [62.3, 395.5, 712, 851.4], yTitleX: 40, xTitleY: 873, half: 0.42, inner: 1.1,
    comps: [
      { mid: q4bUpMid, lo: q4bUpLo, hi: q4bUpHi, w: q4bUpW },
      { mid: q4bZeroMid, lo: q4bZeroLo, hi: q4bZeroHi, w: q4bZeroW },
      { mid: q4bNegMid, lo: q4bNegLo, hi: q4bNegHi, w: q4bNegW }
    ], dlo: q4bDlo, dhi: q4bDhi },
  { xs: agesCacd, xMax: 50, xTicks: xTicksCacd, yMin: 2.2936, yMax: 2.3418, yTicks: q5bYTicks, dec: 2,
    box: [442.3, 762.7, 710.6, 850.7], yTitleX: 413, xTitleY: 873, half: 0.42, inner: 1.0,
    comps: [{ mid: q5bMid, lo: q5bLo, hi: q5bHi, w: q5bW }], dlo: q5bDlo, dhi: q5bDhi },
  { xs: agesAfad, xMax: 26.7, xTicks: xTicksAfad, yMin: 0.87853, yMax: 0.88223, yTicks: q6bYTicks, dec: 3,
    box: [821.7, 1138, 710.6, 851.4], yTitleX: 785, xTitleY: 873, half: 0.45, inner: 1.3,
    comps: [{ mid: q6bMid, lo: q6bLo, hi: q6bHi, w: q6bW }], dlo: q6bDlo, dhi: q6bDhi },

  { xs: agesMorph, xMax: 56, xTicks: xTicksMorph, yMin: -0.99, yMax: 4.91, yTicks: q4cYTicks, dec: 0,
    box: [55.7, 395.5, 880.7, 1021.9], yTitleX: 40, xTitleY: 1045, half: 0.42, inner: 1.1,
    comps: [{ mid: q4cMid, lo: q4cLo, hi: q4cHi, w: 1 }], dlo: q4cDlo, dhi: q4cDhi },
  { xs: agesCacd, xMax: 50, xTicks: xTicksCacd, yMin: 0.9985, yMax: 1.00994, yTicks: q5cYTicks, dec: 3,
    box: [447.3, 762.7, 880, 1021.9], yTitleX: 413, xTitleY: 1045, half: 0.42, inner: 1.0,
    comps: [{ mid: q5cMid, lo: q5cLo, hi: q5cHi, w: q5cW }], dlo: q5cDlo, dhi: q5cDhi },
  { xs: agesAfad, xMax: 26.9, xTicks: xTicksAfad, yMin: -0.0000903, yMax: 0.000131, yTicks: q6cYTicks, dec: 5,
    box: [839, 1138, 889.7, 1021.9], yTitleX: 785, xTitleY: 1045, half: 0.45, inner: 1.3, taper: 1.4,
    comps: [{ mid: q6cMid, lo: q6cLo, hi: q6cHi, w: 1 }], dlo: q6cDlo, dhi: q6cDhi }
];

const page = document.getElementById('page');

function makeChart(p) {
  const [left, right, top, bottom] = p.box;
  const lhY = Y_TITLE * 1.2, lhX = X_TITLE * 1.2;
  const cLeft = Math.round(p.yTitleX - lhY / 2);
  const cTop = Math.round(top - 4);
  const cW = Math.round(right + 3 - cLeft);
  const cH = Math.round(p.xTitleY + lhX / 2 - cTop);
  const yw = left - cLeft;
  const xh = cH - (bottom - cTop);

  const canvas = document.createElement('canvas');
  canvas.width = cW;
  canvas.height = cH;
  canvas.style.left = cLeft + 'px';
  canvas.style.top = cTop + 'px';
  canvas.style.width = cW + 'px';
  canvas.style.height = cH + 'px';
  page.appendChild(canvas);

  const tickFont = { family: SERIF, size: 12 };
  new Chart(canvas, {
    type: 'scatter',
    data: { datasets: [{ data: [], pointRadius: 0 }] },
    options: {
      responsive: false,
      animation: false,
      events: [],
      layout: { padding: { left: 0, top: top - cTop, right: cW - (right - cLeft), bottom: 0 } },
      plugins: { legend: { display: false }, tooltip: { enabled: false }, violins: { panel: p } },
      scales: {
        x: {
          type: 'linear', position: 'bottom', min: 0, max: p.xMax,
          afterBuildTicks: s => { s.ticks = p.xTicks.map(v => ({ value: v })); },
          afterFit: s => { s.height = xh; },
          grid: { color: GRID, drawTicks: false },
          border: { display: false },
          ticks: { autoSkip: false, maxRotation: 0, padding: 2, color: TICK, font: tickFont, callback: v => fmt(v, 0) },
          title: { display: true, text: 'y\u1D62', color: '#111', padding: 0, font: { family: SERIF, size: X_TITLE, style: 'italic' } }
        },
        y: {
          type: 'linear', position: 'left', min: p.yMin, max: p.yMax,
          afterBuildTicks: s => { s.ticks = p.yTicks.map(v => ({ value: v })); },
          afterFit: s => { s.width = yw; },
          grid: { color: GRID, drawTicks: false },
          border: { display: false },
          ticks: { autoSkip: false, padding: 5, color: TICK, font: tickFont, callback: v => fmt(v, p.dec) },
          title: { display: true, text: '\u00E2(x\u1D62)', color: '#111', padding: 0, font: { family: SERIF, size: Y_TITLE, style: 'italic' } }
        }
      }
    },
    plugins: [violinPlugin]
  });
}

panels.forEach(makeChart);
</script>
</body>
</html>
